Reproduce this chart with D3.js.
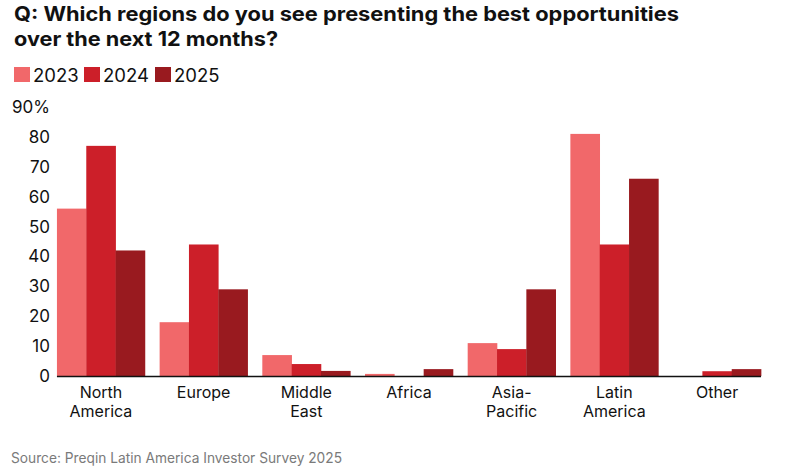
<!DOCTYPE html>
<html>
<head>
<meta charset="utf-8">
<script src="https://cdn.jsdelivr.net/npm/d3@7"></script>
<style>
  body { margin: 0; background: #fff; }
  svg { display: block; font-family: Inter, "Noto Sans", sans-serif; }
</style>
</head>
<body>
<div id="chart"></div>
<script>
// data (percent of respondents)
const regions = ['North America', 'Europe', 'Middle East', 'Africa', 'Asia-Pacific', 'Latin America', 'Other']
const regionLines = [['North', 'America'], ['Europe'], ['Middle', 'East'], ['Africa'], ['Asia-', 'Pacific'], ['Latin', 'America'], ['Other']]
const years = ['2023', '2024', '2025']
const v2023 = [56, 18, 7, 0.7, 11, 81, 0]
const v2024 = [77, 44, 4, 0, 9, 44, 1.6]
const v2025 = [42, 29, 1.7, 2.3, 29, 66, 2.3]
const yTicks = [0, 10, 20, 30, 40, 50, 60, 70, 80, 90]
const colors = ['#f1686a', '#cc1f29', '#991a1f']

const series = [v2023, v2024, v2025]
const width = 810, height = 475

const svg = d3.select('#chart').append('svg')
    .attr('width', width)
    .attr('height', height)

// title
const title = svg.append('text')
    .attr('x', 14)
    .attr('font-size', 20)
    .attr('font-weight', 700)
    .attr('fill', '#111')
title.append('tspan').attr('x', 14).attr('y', 21)
    .attr('textLength', 665).attr('lengthAdjust', 'spacingAndGlyphs')
    .text('Q: Which regions do you see presenting the best opportunities')
title.append('tspan').attr('x', 14).attr('y', 46)
    .attr('textLength', 264).attr('lengthAdjust', 'spacingAndGlyphs')
    .text('over the next 12 months?')

// legend
const legendX = [14, 84, 155]
const legend = svg.append('g')
years.forEach((yr, i) => {
    legend.append('rect')
        .attr('x', legendX[i]).attr('y', 67)
        .attr('width', 16).attr('height', 15)
        .attr('fill', colors[i])
    legend.append('text')
        .attr('x', legendX[i] + 19).attr('y', 82)
        .attr('font-size', 18.5)
        .attr('fill', '#111')
        .text(yr)
})

// scales
const x0 = d3.scaleBand()
    .domain(regions)
    .range([49.6, 768.4])
    .paddingInner(0.143)
    .paddingOuter(0.0715)

const x1 = d3.scaleBand()
    .domain(years)
    .range([0, x0.bandwidth()])

const y = d3.scaleLinear()
    .domain([0, 90])
    .range([376, 107])

// y axis labels (no line, no ticks)
const yAxis = d3.axisLeft(y)
    .tickValues(yTicks)
    .tickSize(0)
    .tickPadding(0)
    .tickFormat(d => d === 90 ? '90%' : d)

const yAxisGroup = svg.append('g')
    .attr('transform', 'translate(50, 0)')
    .call(yAxis)
yAxisGroup.select('.domain').remove()
yAxisGroup.selectAll('text')
    .attr('font-family', 'Inter, "Noto Sans", sans-serif')
    .attr('font-size', 17)
    .attr('fill', '#111')

// bars
const groups = svg.append('g')
    .selectAll('g')
    .data(regions)
    .join('g')
    .attr('transform', d => `translate(${x0(d)}, 0)`)

groups.selectAll('rect')
    .data((d, i) => years.map((yr, j) => ({ yr, value: series[j][i], j })))
    .join('rect')
    .attr('x', d => x1(d.yr))
    .attr('y', d => y(d.value))
    .attr('width', x1.bandwidth() + 0.3)
    .attr('height', d => y(0) - y(d.value))
    .attr('fill', d => colors[d.j])

// baseline
svg.append('line')
    .attr('x1', x0(regions[0]))
    .attr('x2', x0(regions[regions.length - 1]) + x0.bandwidth())
    .attr('y1', y(0) + 0.5)
    .attr('y2', y(0) + 0.5)
    .attr('stroke', '#111')
    .attr('stroke-width', 1.5)

// x axis labels
const xLabels = svg.append('g')
regions.forEach((r, i) => {
    const t = xLabels.append('text')
        .attr('text-anchor', 'middle')
        .attr('font-size', 16)
        .attr('fill', '#111')
    regionLines[i].forEach((line, k) => {
        t.append('tspan')
            .attr('x', x0(r) + x0.bandwidth() / 2)
            .attr('y', 398 + k * 19)
            .text(line)
    })
})

// source
svg.append('text')
    .attr('x', 11)
    .attr('y', 463)
    .attr('font-size', 14)
    .attr('fill', '#7a7a7a')
    .attr('textLength', 331)
    .attr('lengthAdjust', 'spacingAndGlyphs')
    .text('Source: Preqin Latin America Investor Survey 2025')
</script>
</body>
</html>
